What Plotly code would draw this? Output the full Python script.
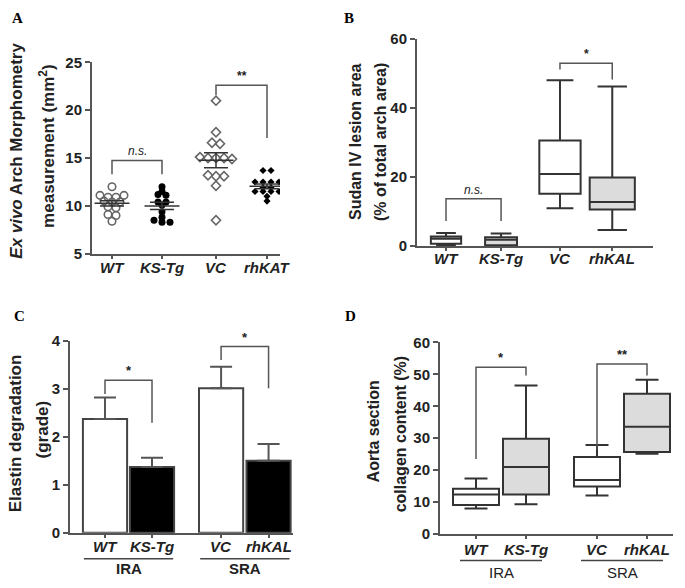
import numpy as np
import plotly.graph_objects as go

W, H = 685, 588

# A: ex vivo arch morphometry (mm2), individual animals
a_labels = ['WT', 'KS-Tg', 'VC', 'rhKAT']
a_wt = [12.0, 11.1, 10.9, 10.9, 11.1, 10.5, 10.4, 10.4, 9.9, 9.8, 9.1, 9.0, 8.4]
a_kstg = [12.0, 11.5, 11.2, 11.1, 10.4, 10.4, 10.1, 9.4, 8.8, 8.5, 8.3, 8.3]
a_vc = [21.0, 17.7, 16.6, 16.5, 15.1, 15.0, 15.0, 15.0, 14.9, 13.2, 13.1, 13.1, 12.1, 8.5]
a_rhkat = [13.7, 13.7, 12.5, 12.5, 12.5, 12.5, 11.9, 11.9, 11.5, 11.5, 11.5, 11.5, 11.0, 10.5]

# B: Sudan IV lesion area (%), box summaries
b_labels = ['WT', 'KS-Tg', 'VC', 'rhKAL']
b_lo = [0.2, 0.0, 11.0, 4.7]
b_q1 = [0.75, 0.3, 15.2, 10.6]
b_med = [2.2, 1.9, 20.9, 12.8]
b_q3 = [2.8, 2.6, 30.6, 19.9]
b_hi = [3.8, 3.7, 48.0, 46.2]

# C: elastin degradation grade, mean + SEM
c_labels = ['WT', 'KS-Tg', 'VC', 'rhKAL']
c_mean = [2.37, 1.37, 3.01, 1.50]
c_sem = [0.45, 0.19, 0.45, 0.35]

# D: collagen content (%), box summaries
d_labels = ['WT', 'KS-Tg', 'VC', 'rhKAL']
d_lo = [8.0, 9.3, 12.1, 25.1]
d_q1 = [9.1, 12.4, 14.9, 25.7]
d_med = [12.4, 21.0, 16.9, 33.6]
d_q3 = [14.2, 29.8, 24.1, 43.9]
d_hi = [17.4, 46.5, 27.9, 48.3]

# significance brackets: (text, group i, group j, top, left leg end, right leg end)
a_sig = [('n.s.', 0, 1, 14.75, 13.3, 13.3), ('**', 2, 3, 22.6, 21.6, 17.1)]
b_sig = [('n.s.', 0, 1, 13.7, 7.3, 7.3), ('*', 2, 3, 52.9, 51.1, 48.2)]
c_sig = [('*', 0, 1, 3.18, 2.89, 2.29), ('*', 2, 3, 3.88, 3.6, 3.01)]
d_sig = [('*', 0, 1, 52.2, 23.5, 49.6), ('**', 2, 3, 53.2, 26.5, 49.6)]

FONT = 'Liberation Sans'
AX = '#555555'
TXT = '#222222'


def dom_x(left, right):
    return [left / W, right / W]


def dom_y(top, bottom):
    return [1 - bottom / H, 1 - top / H]


def axes(fig, n, xdom, ydom, xrange, yrange, dtick, pos, labels, label_y):
    sfx = '' if n == 1 else str(n)
    fig.layout['xaxis' + sfx] = dict(
        domain=xdom, range=xrange, anchor='y' + sfx, showgrid=False, zeroline=False,
        showline=True, linecolor=AX, linewidth=2, ticks='outside', ticklen=3,
        tickwidth=1.5, tickcolor=AX, tickvals=pos, showticklabels=False)
    yt = list(np.arange(yrange[0], yrange[1] + dtick / 2, dtick))
    fig.layout['yaxis' + sfx] = dict(
        domain=ydom, range=yrange, anchor='x' + sfx, showgrid=False, zeroline=False,
        showline=True, linecolor=AX, linewidth=2, ticks='outside', ticklen=5,
        tickwidth=2, tickcolor=AX, tickvals=yt, ticktext=['<b>%g</b>' % v for v in yt],
        tickfont=dict(family=FONT, size=15, color=TXT))
    # category names, bold italic, under the axis
    for p, lab in zip(pos, labels):
        fig.add_annotation(x=p, y=1 - label_y / H, xref='x' + sfx, yref='paper',
                           text='<b><i>%s</i></b>' % lab, showarrow=False, yanchor='middle',
                           font=dict(family=FONT, size=15, color=TXT))


def brackets(fig, n, sig, pos, size=13):
    sfx = '' if n == 1 else str(n)
    for text, i, j, top, l_end, r_end in sig:
        fig.add_trace(go.Scatter(x=[pos[i], pos[i], pos[j], pos[j]], y=[l_end, top, top, r_end],
                                 mode='lines', line=dict(color=AX, width=1.5),
                                 xaxis='x' + sfx, yaxis='y' + sfx, showlegend=False, hoverinfo='skip'))
        fig.add_annotation(x=(pos[i] + pos[j]) / 2, y=top, xref='x' + sfx, yref='y' + sfx,
                           text='<i>%s</i>' % text if text == 'n.s.' else '<b>%s</b>' % text,
                           showarrow=False, yanchor='bottom', yshift=0,
                           font=dict(family=FONT, size=size, color=TXT))


def ytitle(fig, lines, xs, ys, size):
    for t, x, y in zip(lines, xs, ys):
        fig.add_annotation(x=x / W, y=1 - y / H, xref='paper', yref='paper', text='<b>%s</b>' % t,
                           textangle=-90, showarrow=False, xanchor='center', yanchor='middle',
                           font=dict(family=FONT, size=size, color=TXT))


def swarm(vals, step):
    # rows by value, points centred in each row
    rows = {}
    for k, v in enumerate(vals):
        rows.setdefault(round(v / 0.5), []).append(k)
    off = [0.0] * len(vals)
    for idx in rows.values():
        for j, k in enumerate(idx):
            off[k] = (j - (len(idx) - 1) / 2) * step
    return off


def panel_a(fig):
    pos = [1, 2, 3.08, 4.1]
    axes(fig, 1, dom_x(92, 280), dom_y(55, 252), [0.6, 4.36], [5, 25], 5, pos, a_labels, 266)
    marks = [dict(symbol='circle-open', size=7.5, color='#666', line=dict(width=1.6, color='#666')),
             dict(symbol='circle', size=7, color='black'),
             dict(symbol='diamond-open', size=7, color='#666', line=dict(width=1.6, color='#666')),
             dict(symbol='diamond', size=5.5, color='black')]
    for p, vals, mk in zip(pos, [a_wt, a_kstg, a_vc, a_rhkat], marks):
        off = swarm(vals, 0.16)
        fig.add_trace(go.Scatter(x=[p + o for o in off], y=vals, mode='markers', marker=mk,
                                 xaxis='x', yaxis='y', showlegend=False, hoverinfo='skip'))
        m = np.mean(vals)
        sem = np.std(vals, ddof=1) / np.sqrt(len(vals))
        fig.add_trace(go.Scatter(x=[p - 0.35, p + 0.35], y=[m, m], mode='lines',
                                 line=dict(color='#333', width=1.5),
                                 xaxis='x', yaxis='y', showlegend=False, hoverinfo='skip'))
        fig.add_trace(go.Scatter(x=[p], y=[m], mode='markers', marker=dict(size=1, color='#333'),
                                 error_y=dict(type='data', array=[sem], color='#333', thickness=1.5, width=12),
                                 xaxis='x', yaxis='y', showlegend=False, hoverinfo='skip'))
    brackets(fig, 1, a_sig, pos, 12)
    ytitle(fig, ['<i>Ex vivo</i> Arch Morphometry', 'measurement (mm<sup>2</sup>)'], [17, 47], [146, 142], 17)


def boxes(fig, n, pos, lo, q1, med, q3, hi, widths, fills, ww):
    sfx = '' if n == 1 else str(n)
    for k in range(len(pos)):
        fig.add_trace(go.Box(x=[pos[k]], lowerfence=[lo[k]], q1=[q1[k]], median=[med[k]],
                             q3=[q3[k]], upperfence=[hi[k]], width=widths[k], fillcolor=fills[k],
                             line=dict(color='#333', width=2), whiskerwidth=ww, boxpoints=False,
                             xaxis='x' + sfx, yaxis='y' + sfx, showlegend=False, hoverinfo='skip'))


def panel_b(fig):
    pos = [1, 2, 3.07, 4.02]
    axes(fig, 2, dom_x(417, 653), dom_y(30.7, 244.3), [0.473, 4.76], [0, 60], 20, pos, b_labels, 257)
    boxes(fig, 2, pos, b_lo, b_q1, b_med, b_q3, b_hi, [0.55, 0.58, 0.75, 0.82],
          ['white', '#dcdcdc', 'white', '#dcdcdc'], 0.65)
    brackets(fig, 2, b_sig, pos, 12)
    ytitle(fig, ['Sudan IV lesion area', '(% of total arch area)'], [355, 380], [137, 137], 16)


def group_lines(fig, n, pos, names, y_line, y_text, half, bold):
    sfx = '' if n == 1 else str(n)
    for (i, j), name in zip([(0, 1), (2, 3)], names):
        c = (pos[i] + pos[j]) / 2
        fig.add_shape(type='line', xref='x' + sfx, yref='paper', x0=c - half, x1=c + half,
                      y0=1 - y_line / H, y1=1 - y_line / H, line=dict(color='#444', width=1.5))
        fig.add_annotation(x=c, y=1 - y_text / H, xref='x' + sfx, yref='paper',
                           text='<b>%s</b>' % name if bold else name, showarrow=False,
                           yanchor='middle', font=dict(family=FONT, size=15, color=TXT))


def panel_c(fig):
    pos = [1, 2, 3.47, 4.48]
    axes(fig, 3, dom_x(70, 293), dom_y(341.7, 539.3), [0.255, 5.0], [0, 4], 1, pos, c_labels, 553)
    fig.add_trace(go.Bar(x=pos, y=c_mean, width=0.94,
                         marker=dict(color=['white', 'black', 'white', 'black'],
                                     line=dict(color='#444', width=2)),
                         error_y=dict(type='data', array=c_sem, arrayminus=[0] * 4, symmetric=False,
                                      color='#555', thickness=2, width=11),
                         xaxis='x3', yaxis='y3', showlegend=False, hoverinfo='skip'))
    brackets(fig, 3, c_sig, pos, 13)
    group_lines(fig, 3, pos, ['IRA', 'SRA'], 566, 576, 0.95, True)
    ytitle(fig, ['Elastin degradation', '(grade)'], [15, 42], [437, 433], 17)


def panel_d(fig):
    pos = [1, 2, 3.42, 4.42]
    axes(fig, 4, dom_x(440, 673), dom_y(343.3, 540.7), [0.28, 4.94], [0, 60], 10, pos, d_labels, 557)
    boxes(fig, 4, pos, d_lo, d_q1, d_med, d_q3, d_hi, [0.92] * 4,
          ['white', '#dcdcdc', 'white', '#dcdcdc'], 0.5)
    brackets(fig, 4, d_sig, pos, 13)
    group_lines(fig, 4, pos, ['IRA', 'SRA'], 568, 580, 0.82, False)
    ytitle(fig, ['Aorta section', 'collagen content (%)'], [373, 400], [435, 438], 16)


fig = go.Figure()
panel_a(fig)
panel_b(fig)
panel_c(fig)
panel_d(fig)

for letter, x, y in [('A', 10, 9), ('B', 342, 9), ('C', 12, 316), ('D', 343, 316)]:
    fig.add_annotation(x=x / W, y=1 - y / H, xref='paper', yref='paper', text='<b>%s</b>' % letter,
                       showarrow=False, xanchor='left', yanchor='middle',
                       font=dict(family='Liberation Serif', size=15, color='black'))

fig.update_layout(width=W, height=H, margin=dict(l=0, r=0, t=0, b=0),
                  paper_bgcolor='white', plot_bgcolor='white', boxmode='overlay')
# page body has a default 8px margin; drop it so the figure sits at the window corner
fig.write_html('out.html', config={'displayModeBar': False},
               post_script="document.body.style.margin = '0';")
